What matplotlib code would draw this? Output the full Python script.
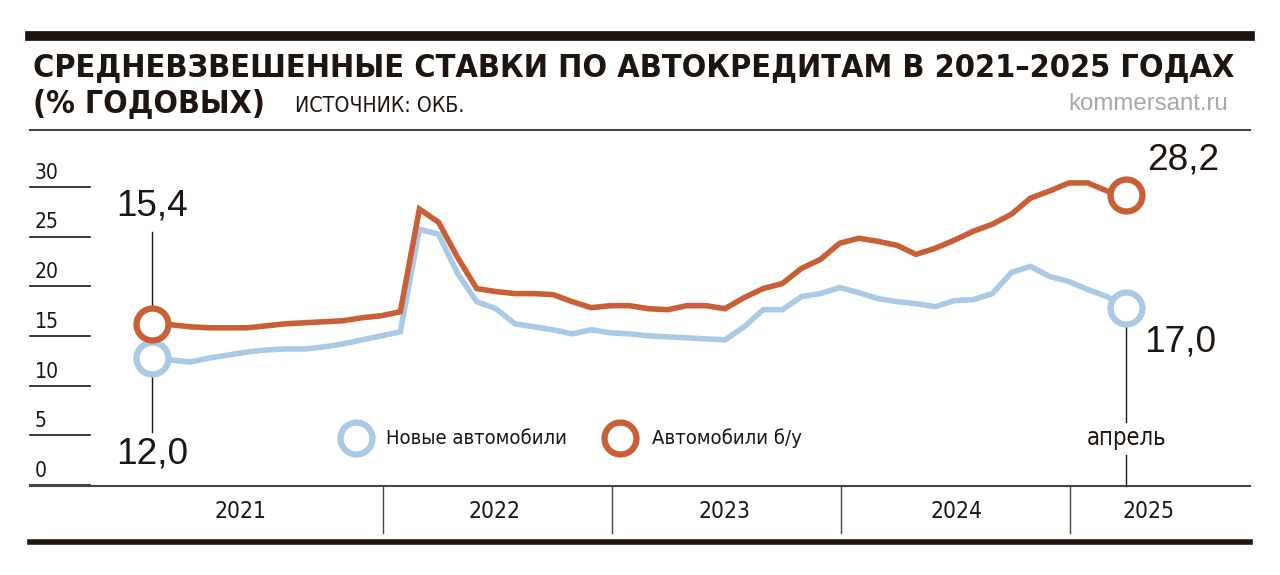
import matplotlib.pyplot as plt
from matplotlib.lines import Line2D
from matplotlib import font_manager

# monthly values, Jan 2021 .. Apr 2025
new_cars = [12.0, 11.8, 11.6, 12.0, 12.3, 12.6, 12.8, 12.9, 12.9, 13.1, 13.4, 13.8,
            14.2, 14.6, 24.8, 24.3, 20.4, 17.6, 16.9, 15.4, 15.1, 14.8, 14.4, 14.8,
            14.5, 14.4, 14.2, 14.1, 14.0, 13.9, 13.8, 15.1, 16.8, 16.8, 18.1, 18.4,
            19.0, 18.5, 17.9, 17.6, 17.4, 17.1, 17.7, 17.8, 18.4, 20.5, 21.1, 20.1,
            19.6, 18.8, 18.1, 17.0]
used_cars = [15.4, 15.3, 15.1, 15.0, 15.0, 15.0, 15.2, 15.4, 15.5, 15.6, 15.7, 16.0,
             16.2, 16.6, 26.8, 25.5, 22.0, 18.9, 18.6, 18.4, 18.4, 18.3, 17.6, 17.0,
             17.2, 17.2, 16.9, 16.8, 17.2, 17.2, 16.9, 18.0, 18.9, 19.4, 20.9, 21.8,
             23.4, 23.9, 23.6, 23.2, 22.3, 22.9, 23.7, 24.6, 25.3, 26.3, 27.9, 28.6,
             29.4, 29.4, 28.6, 28.2]
years = ["2021", "2022", "2023", "2024", "2025"]
y_ticks = [0, 5, 10, 15, 20, 25, 30]

RED = "#c95f37"
BLUE = "#a9c9e6"
DARK = "#1e1410"

names = {f.name for f in font_manager.fontManager.ttflist}
narrow = [f for f in ["Liberation Sans Narrow", "DejaVu Sans Condensed"] if f in names]
plt.rcParams["font.family"] = narrow + ["DejaVu Sans"]
plt.rcParams["font.stretch"] = "condensed"

W, H = 1280, 575
fig = plt.figure(figsize=(12.8, 5.75), dpi=100)
renderer = fig.canvas.get_renderer()

def fit(t, width_px):
    # shrink/grow a text so it spans the given pixel width
    w = t.get_window_extent(renderer).width
    t.set_fontsize(t.get_fontsize() * width_px / w)

# pixel mapping: month i -> 152 + 19.1*i ; value v -> 478.7 - 10.06*v
px0, pxm = 152, 19.1
py0, pyv = 478.7, 10.06
ax_l, ax_r, ax_t, ax_b = 20, 1260, 130, 560
ax = fig.add_axes([ax_l / W, 1 - ax_b / H, (ax_r - ax_l) / W, (ax_b - ax_t) / H])
ax.set_xlim((ax_l - px0) / pxm, (ax_r - px0) / pxm)
ax.set_ylim((py0 - ax_b) / pyv, (py0 - ax_t) / pyv)
ax.axis("off")

def X(px):
    return (px - px0) / pxm

def Y(py):
    return (py0 - py) / pyv

n = len(new_cars)
xs = list(range(n))
ax.plot(xs, new_cars, color=BLUE, lw=4, solid_joinstyle="miter", zorder=3)
ax.plot(xs, used_cars, color=RED, lw=4, solid_joinstyle="miter", zorder=4)
for x, v, c in [(0, new_cars[0], BLUE), (n - 1, new_cars[-1], BLUE),
                (0, used_cars[0], RED), (n - 1, used_cars[-1], RED)]:
    ax.plot(x, v, "o", ms=23, mfc="white", mec=c, mew=4.5, zorder=5)

# y tick lines and labels
for t in y_ticks:
    yl = Y(485 - 49.7 * t / 5)
    ax.plot([X(30), X(90)], [yl, yl], color=DARK, lw=1.2)
    lab = ax.text(X(35), yl + 0.4, str(t), fontsize=17, color=DARK, va="bottom", ha="left")
    fit(lab, 12 * len(str(t)))

# axis band
ax.plot([X(30), X(1250)], [Y(486), Y(486)], color="#4a443c", lw=1.5)
ax.plot([X(30), X(1250)], [Y(542), Y(542)], color=DARK, lw=4)
for sep in [383, 612, 841, 1070]:
    ax.plot([X(sep), X(sep)], [Y(486), Y(533)], color="#4a443c", lw=1)
for lbl, cx in zip(years, [240, 495, 724, 957, 1148]):
    t = ax.text(X(cx), Y(512), lbl, fontsize=18, color=DARK, ha="center", va="center")
    fit(t, 52)

# annotations
ax.plot([0, 0], [Y(232), used_cars[0]], color=DARK, lw=1)
ax.plot([0, 0], [new_cars[0], Y(432)], color=DARK, lw=1)
for s, cx, cy in [("15,4", 152, 206), ("12,0", 152, 454), ("28,2", 1183, 160), ("17,0", 1180, 342)]:
    t = ax.text(X(cx), Y(cy), s, fontsize=24, color=DARK, ha="center", va="center",
                family="Liberation Sans")
    fit(t, 72)
ax.plot([n - 1, n - 1], [new_cars[-1], Y(422)], color=DARK, lw=1)
ax.plot([n - 1, n - 1], [Y(455), Y(486)], color=DARK, lw=1)
t = ax.text(n - 1, Y(438), "апрель", fontsize=19, color=DARK, ha="center", va="center")
fit(t, 80)

# legend
ax.plot(X(356), Y(438), "o", ms=23, mfc="white", mec=BLUE, mew=4.5)
t = ax.text(X(386), Y(438), "Новые автомобили", fontsize=17, color=DARK, va="center")
fit(t, 180)
ax.plot(X(620), Y(438), "o", ms=23, mfc="white", mec=RED, mew=4.5)
t = ax.text(X(652), Y(438), "Автомобили б/у", fontsize=17, color=DARK, va="center")
fit(t, 150)

# header
fig.add_artist(Line2D([30 / W, 1250 / W], [1 - 36 / H, 1 - 36 / H], color=DARK, lw=7))
fig.add_artist(Line2D([30 / W, 1250 / W], [1 - 130 / H, 1 - 130 / H], color="#4a443c", lw=1.5))
t = fig.text(33 / W, 1 - 68 / H, "СРЕДНЕВЗВЕШЕННЫЕ СТАВКИ ПО АВТОКРЕДИТАМ В 2021–2025 ГОДАХ",
             fontsize=27, fontweight="heavy", color=DARK, va="center")
fit(t, 1200)
t = fig.text(33 / W, 1 - 104 / H, "(% ГОДОВЫХ)", fontsize=27, fontweight="heavy", color=DARK, va="center")
fit(t, 232)
t = fig.text(295 / W, 1 - 106 / H, "ИСТОЧНИК: ОКБ.", fontsize=17, color=DARK, va="center")
fit(t, 170)
t = fig.text(1228 / W, 1 - 104 / H, "kommersant.ru", fontsize=17, color="#a8a8a8", va="center", ha="right",
             family="Liberation Sans")
fit(t, 160)

fig.savefig("out.png", dpi=100, facecolor="white")
